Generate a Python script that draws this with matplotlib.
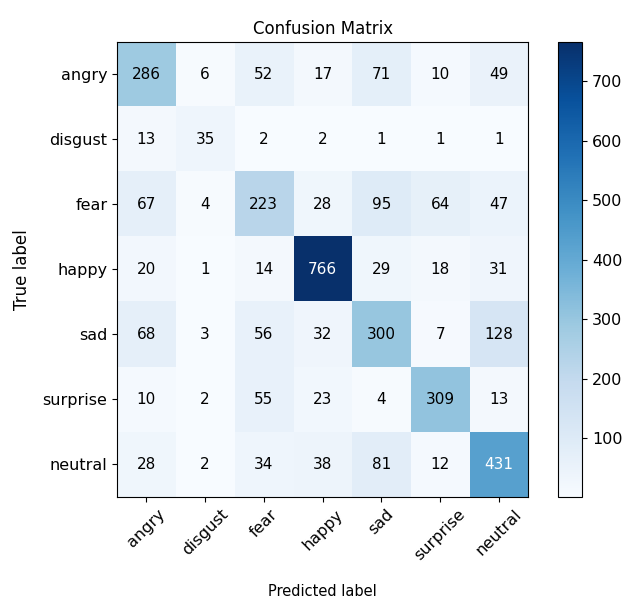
import numpy as np
import matplotlib
matplotlib.use("Agg")
from matplotlib import pyplot as plt

# class names and confusion matrix counts
classes = ["angry", "disgust", "fear", "happy", "sad", "surprise", "neutral"]
row_angry = [286, 6, 52, 17, 71, 10, 49]
row_disgust = [13, 35, 2, 2, 1, 1, 1]
row_fear = [67, 4, 223, 28, 95, 64, 47]
row_happy = [20, 1, 14, 766, 29, 18, 31]
row_sad = [68, 3, 56, 32, 300, 7, 128]
row_surprise = [10, 2, 55, 23, 4, 309, 13]
row_neutral = [28, 2, 34, 38, 81, 12, 431]

cm = np.array([row_angry, row_disgust, row_fear, row_happy,
               row_sad, row_surprise, row_neutral])

fig = plt.figure(figsize=(6.24, 5.98), dpi=100)
ax = fig.add_axes([0.1875, 0.169, 0.659, 0.761])
cax = fig.add_axes([0.894, 0.169, 0.039, 0.761])

im = ax.imshow(cm, interpolation="nearest", cmap=plt.cm.Blues, aspect="auto")
ax.set_title("Confusion Matrix", fontsize=12)
cb = fig.colorbar(im, cax=cax)
cb.ax.tick_params(labelsize=11.5)

ticks = np.arange(len(classes))
ax.set_xticks(ticks)
ax.set_xticklabels(classes, rotation=45, fontsize=11.5)
ax.set_yticks(ticks)
ax.set_yticklabels(classes, fontsize=11.5)

thresh = cm.max() / 2.
for i in range(cm.shape[0]):
    for j in range(cm.shape[1]):
        ax.text(j, i, format(cm[i, j], "d"),
                horizontalalignment="center", verticalalignment="center",
                fontsize=11,
                color="white" if cm[i, j] > thresh else "black")

ax.set_ylabel("True label", fontsize=12)
ax.set_xlabel("Predicted label", fontsize=10.5, labelpad=15)
ax.yaxis.set_label_coords(-0.21, 0.5)

fig.savefig("out.png", dpi=100)
